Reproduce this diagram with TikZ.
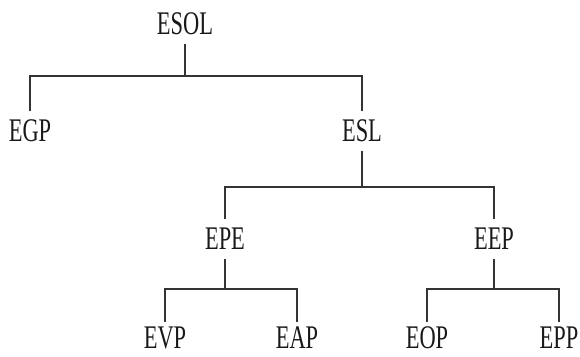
\documentclass[tikz,border=0pt]{standalone}
\usepackage{fontspec}
\setmainfont{Liberation Serif}
\usepackage{graphicx}
\begin{document}
\begin{tikzpicture}[x=1pt,y=-1pt,
  lbl/.style={inner xsep=0pt, inner ysep=9pt, text=black!90,
    font=\fontsize{33}{33}\selectfont},
  leaf/.style={lbl, inner ysep=0pt},
  link/.style={draw=black!80, line width=1.6pt}]
\useasboundingbox (0,0) rectangle (580,356);
\newcommand{\nar}[1]{\scalebox{0.68}[1]{#1}}
% labels, placed at the middle of their capitals
\node[lbl] (esol) at (185,24)  {\nar{ESOL}};
\node[lbl] (egp)  at (30,131)  {\nar{EGP}};
\node[lbl] (esl)  at (362,131) {\nar{ESL}};
\node[lbl] (epe)  at (225,239) {\nar{EPE}};
\node[lbl] (eep)  at (494,239) {\nar{EEP}};
\node[leaf] (evp) at (165,338) {\nar{EVP}};
\node[leaf] (eap) at (297,338) {\nar{EAP}};
\node[leaf] (eop) at (427,338) {\nar{EOP}};
\node[leaf] (epp) at (559,338) {\nar{EPP}};
% heights of the horizontal bars
\coordinate (b1) at (0,76);
\coordinate (b2) at (0,187);
\coordinate (b3) at (0,289);
% tree connectors
\draw[link] (esol.south) -- (esol.south |- b1);
\draw[link] (egp.north) |- (esl.north |- b1) -- (esl.north);
\draw[link] (esl.south) -- (esl.south |- b2);
\draw[link] (epe.north) |- (eep.north |- b2) -- (eep.north);
\draw[link] (epe.south) -- (epe.south |- b3);
\draw[link] ([yshift=5pt]evp.north) |- (eap.north |- b3) -- ([yshift=5pt]eap.north);
\draw[link] (eep.south) -- (eep.south |- b3);
\draw[link] ([yshift=5pt]eop.north) |- (epp.north |- b3) -- ([yshift=5pt]epp.north);
\end{tikzpicture}
\end{document}
